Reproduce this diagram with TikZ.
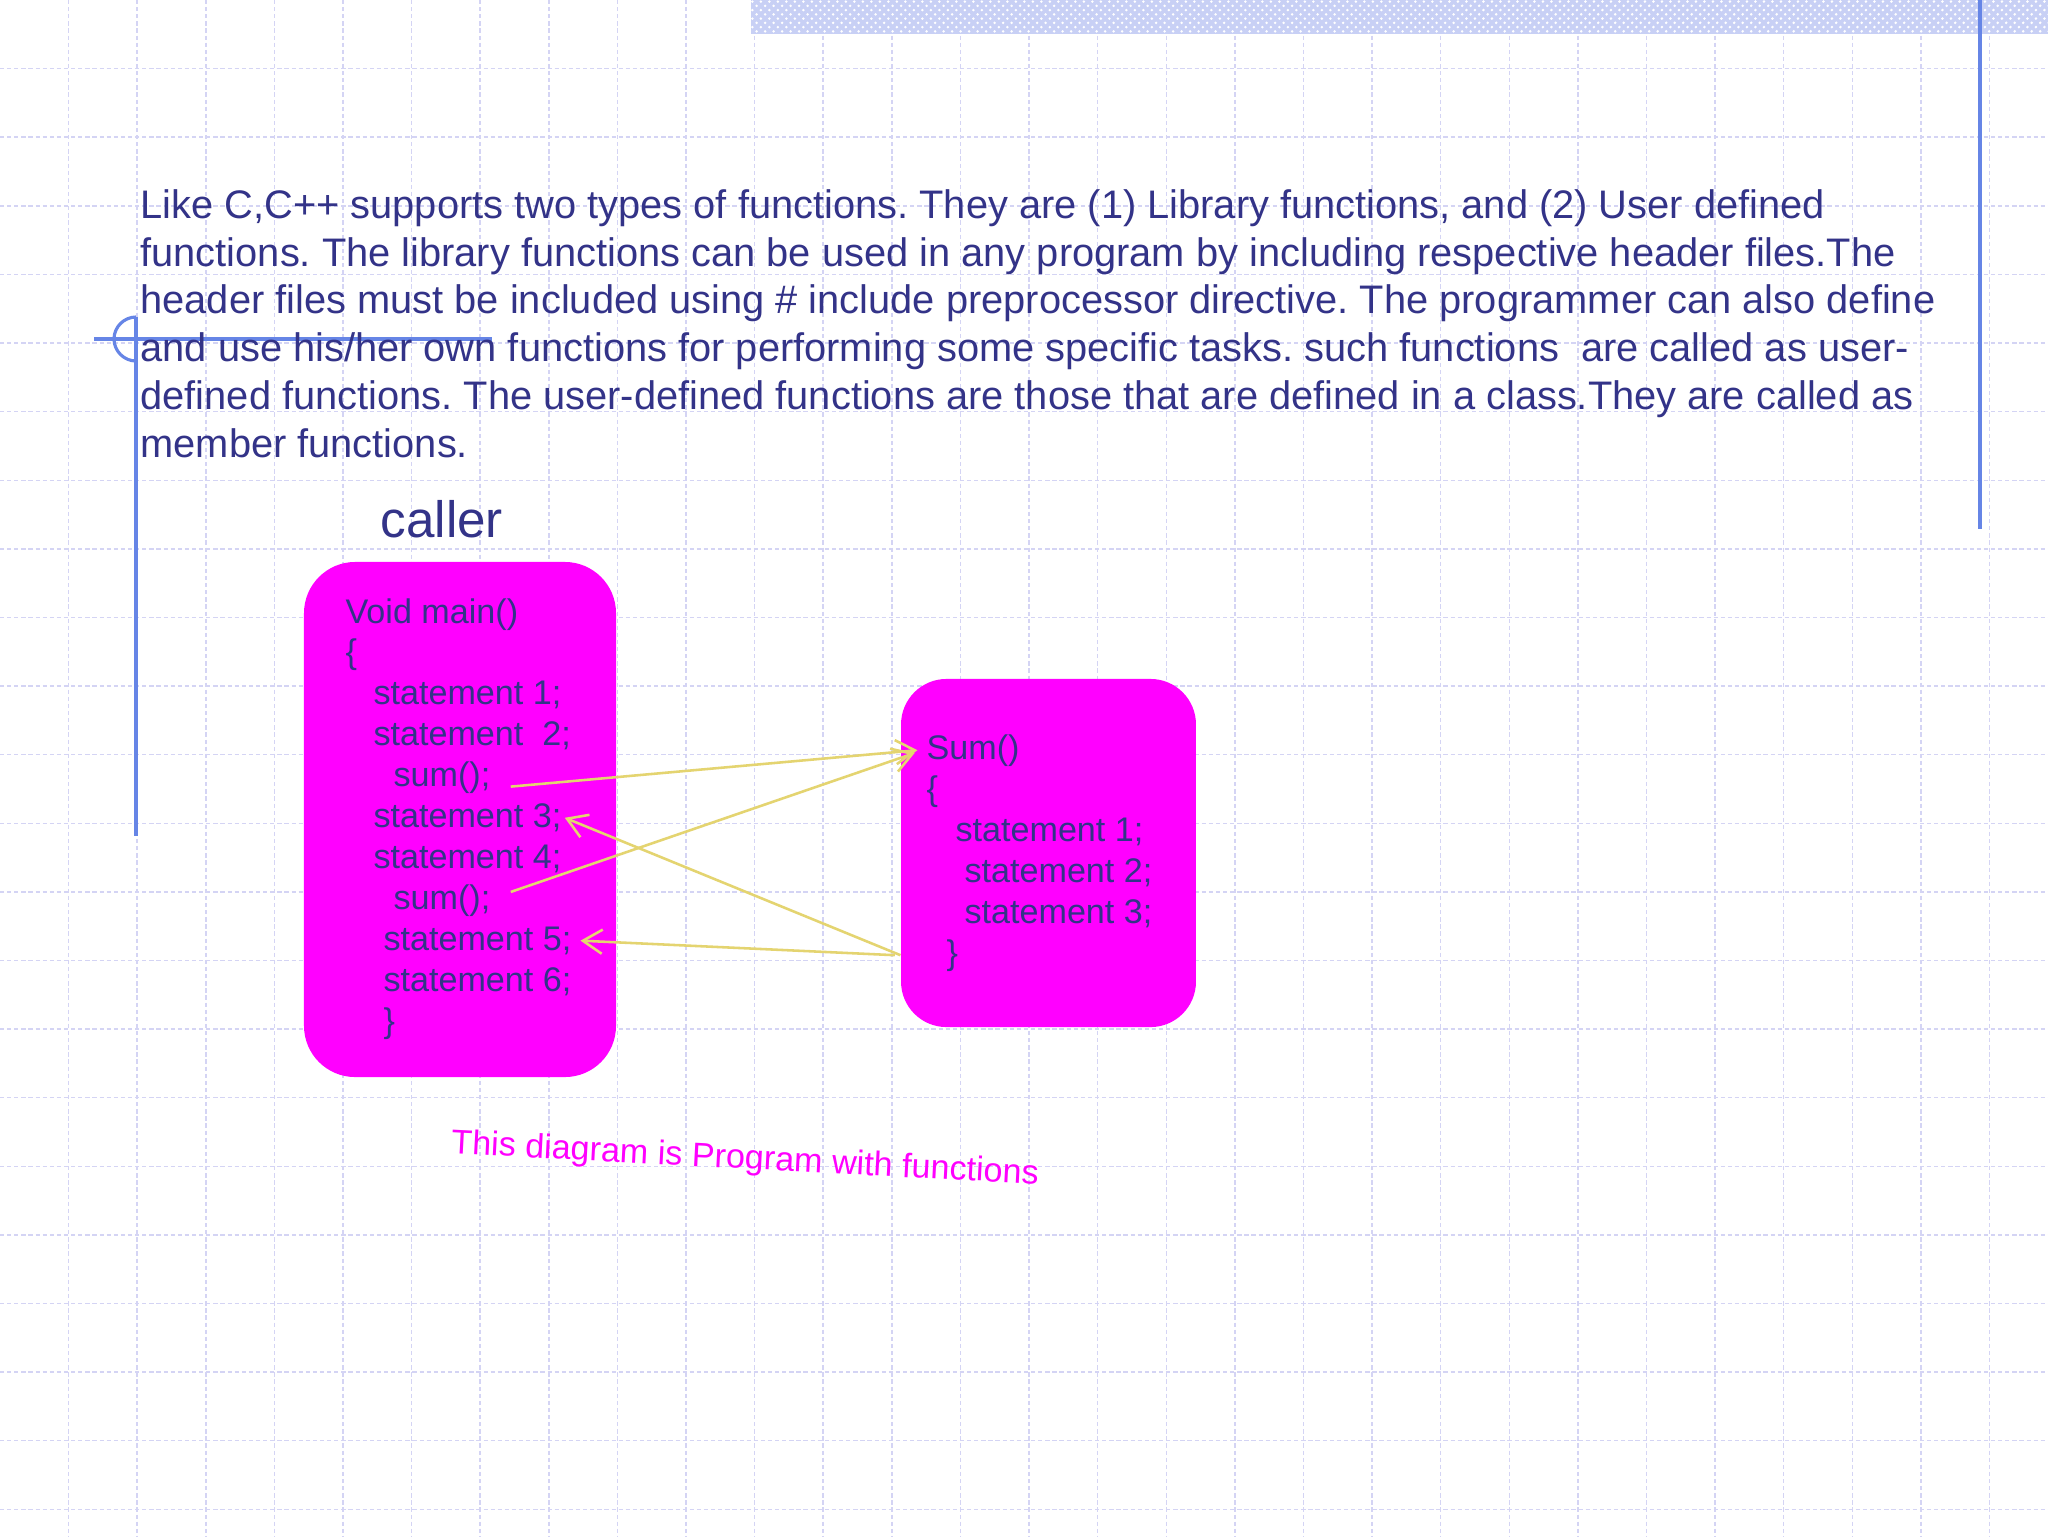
\documentclass[tikz,border=0pt]{standalone}
\usepackage{fontspec}
\setmainfont{Liberation Sans}
\usetikzlibrary{arrows.meta,positioning,calc,patterns}
\definecolor{sltext}{RGB}{51,51,136}
\definecolor{slline}{RGB}{102,133,230}
\definecolor{slgrid}{RGB}{212,212,244}
\definecolor{slband}{RGB}{200,208,245}
\definecolor{slarrow}{RGB}{228,212,112}
\definecolor{slmag}{RGB}{255,0,255}
\frenchspacing

\begin{document}
\begin{tikzpicture}[
  x=0.3516bp,y=-0.3516bp,
  every node/.style={inner sep=0pt},
  gridline/.style={slgrid,line width=0.5bp,dash pattern=on 1.5bp off 1bp},
  deco/.style={slline,line width=1.1bp},
  para/.style={text=sltext,font=\fontsize{14bp}{16.77bp}\selectfont,
               align=left,anchor=base west},
  code/.style={text=sltext,font=\fontsize{12bp}{14bp}\selectfont,anchor=base west},
  funcbox/.style={fill=slmag,rounded corners=18bp},
  arr/.style={-{Straight Barb[length=2.4mm,width=3mm]},slarrow,line width=0.9bp},
  ]
  \useasboundingbox (0,0) rectangle (2048,1536);
  \fill[white] (0,0) rectangle (2048,1536);
  \foreach \k in {1,...,29} \draw[gridline] (68.6*\k,0) -- (68.6*\k,1536);
  \foreach \k in {1,...,22} \draw[gridline] (0,68.6*\k) -- (2048,68.6*\k);
  \fill[slband] (751,0) rectangle (2048,34);
  \fill[pattern=crosshatch dots,pattern color=white] (751,0) rectangle (2048,34);
  \draw[deco] (1980,0) -- (1980,529);
  \draw[deco] (94,339) -- (492,339);
  \draw[deco] (136,317) -- (136,836);
  \draw[deco] (136,317) .. controls (124,317) and (114,327) .. (114,339)
                        .. controls (114,351) and (124,361) .. (136,361);

  \node[para] (intro) at (140,457) {Like C,C++ supports two types of functions. They are (1) Library functions, and (2) User defined\\
functions. The library functions can be used in any program by including respective header files.The\\
header files must be included using \# include preprocessor directive. The programmer can also define\\
and use his/her own functions for performing some specific tasks. such functions\ \ are called as user-\\
defined functions. The user-defined functions are those that are defined in a class.They are called as\\
member functions.};

  \node[text=sltext,font=\fontsize{18bp}{20bp}\selectfont,anchor=base west] (caller) at (380,537) {caller};

  \node[funcbox,minimum width=109.7bp,minimum height=181.1bp] (mainbox) at (460,819.5) {};
  \node[funcbox,minimum width=103.7bp,minimum height=122.4bp,rounded corners=16bp] (sumbox) at (1048.5,853) {};

  \foreach \nm/\dx/\txt [count=\i from 0] in {mvoid/0/Void main(),mopen/0/\{,mst1/28/statement 1;,
      mst2/28/statement\ \ 2;,mcall1/48/sum();,mst3/28/statement 3;,mst4/28/statement 4;,
      mcall2/48/sum();,mst5/38/statement 5;,mst6/38/statement 6;,mclose/38/\}}
    \node[code] (\nm) at (345+\dx,623+40.9*\i) {\txt};
  \foreach \nm/\dx/\txt [count=\i from 0] in {ssum/0/Sum(),sopen/0/\{,sst1/29/statement 1;,
      sst2/38/statement 2;,sst3/38/statement 3;,sclose/20/\}}
    \node[code] (\nm) at (926+\dx,759+41*\i) {\txt};

  \draw[arr] ([xshift=7bp]mcall1.base east) -- ([xshift=-3bp]ssum.west);
  \draw[arr] ([xshift=7bp,yshift=3bp]mcall2.east) -- ([xshift=-4bp,yshift=-1bp]ssum.west);
  \draw[arr] (sumbox.west |- sclose) -- ([xshift=1bp]mst3.east);
  \draw[arr] ([xshift=-2bp]sumbox.west |- sclose) -- ([xshift=3bp]mst5.east);

  \node[text=slmag,font=\fontsize{12bp}{14bp}\selectfont,rotate=-3] (caption) at (745,1160)
    {This diagram is Program with functions};
\end{tikzpicture}
\end{document}
